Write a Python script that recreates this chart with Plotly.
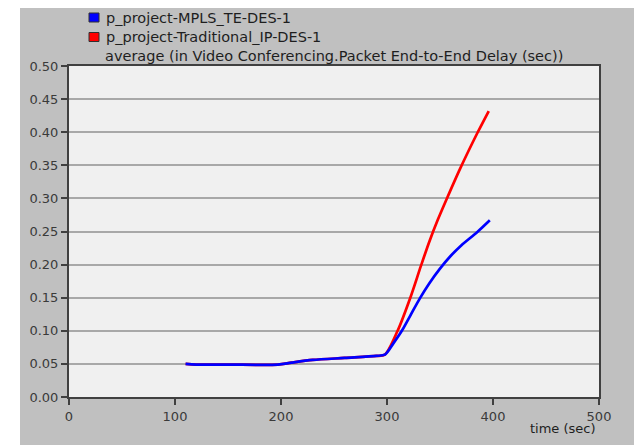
import plotly.graph_objects as go

# ---- data ----
series_names = ["p_project-MPLS_TE-DES-1", "p_project-Traditional_IP-DES-1"]
mpls_time = [110, 120, 150, 197, 210, 230, 260, 290, 298, 306, 314, 322, 331, 340, 350, 360, 370, 385, 397]
mpls_delay = [0.050, 0.049, 0.049, 0.049, 0.052, 0.056, 0.059, 0.062, 0.064, 0.081, 0.100, 0.123, 0.149, 0.172, 0.194, 0.213, 0.229, 0.249, 0.267]
ip_time = [110, 120, 150, 197, 210, 230, 260, 290, 298, 310, 322, 332, 340, 348, 356, 369, 385, 396]
ip_delay = [0.050, 0.049, 0.049, 0.049, 0.052, 0.056, 0.059, 0.062, 0.064, 0.100, 0.150, 0.198, 0.235, 0.268, 0.298, 0.345, 0.398, 0.432]
x_ticks = [0, 100, 200, 300, 400, 500]
y_ticks = [0.00, 0.05, 0.10, 0.15, 0.20, 0.25, 0.30, 0.35, 0.40, 0.45, 0.50]
colors = ["#0000ff", "#ff0000"]
chart_title = "average (in Video Conferencing.Packet End-to-End Delay (sec))"
x_title = "time (sec)"

W, H = 634, 445
L, R, T, B = 69, 35, 66, 48
PW, PH = W - L - R, H - T - B


def px(x):
    return (x - L) / PW


def py(y):
    return (H - B - y) / PH


FONT = "DejaVu Sans, Verdana, sans-serif"
TXT = "#1e1e1e"
TICK = "#3a3a3a"

fig = go.Figure()
fig.add_trace(go.Scatter(x=ip_time, y=ip_delay, mode="lines", name=series_names[1],
                         line=dict(color=colors[1], width=2.7, shape="spline", smoothing=0.8),
                         showlegend=False))
fig.add_trace(go.Scatter(x=mpls_time, y=mpls_delay, mode="lines", name=series_names[0],
                         line=dict(color=colors[0], width=2.7, shape="spline", smoothing=0.8),
                         showlegend=False))

shapes = [
    # white page margins outside the gray panel
    dict(type="rect", xref="paper", yref="paper", x0=px(-5), x1=px(20), y0=py(H + 5), y1=py(-5),
         fillcolor="white", line=dict(width=0), layer="above"),
    dict(type="rect", xref="paper", yref="paper", x0=px(-5), x1=px(W + 5), y0=py(8), y1=py(-5),
         fillcolor="white", line=dict(width=0), layer="above"),
]
annotations = [
    dict(text=chart_title, xref="paper", yref="paper", x=0.5, y=py(56), xanchor="center",
         yanchor="middle", showarrow=False, font=dict(family=FONT, size=14.5, color=TXT)),
    dict(text=x_title, xref="paper", yref="paper", x=px(563), y=py(428), xanchor="center",
         yanchor="middle", showarrow=False, font=dict(family=FONT, size=13, color=TXT)),
]
legend_y = [17.5, 37]
for i, yc in zip([0, 1], legend_y):
    shapes.append(dict(type="rect", xref="paper", yref="paper", x0=px(89), x1=px(99),
                       y0=py(yc + 4.5), y1=py(yc - 4.5), fillcolor=colors[i],
                       line=dict(color="#303030", width=1), layer="above"))
    annotations.append(dict(text=series_names[i], xref="paper", yref="paper", x=px(104), y=py(yc),
                            xanchor="left", yanchor="middle", showarrow=False,
                            font=dict(family=FONT, size=14.5, color=TXT)))

fig.update_layout(
    width=W, height=H,
    margin=dict(l=L, r=R, t=T, b=B, pad=0),
    paper_bgcolor="#c0c0c0",
    plot_bgcolor="#f0f0f0",
    showlegend=False,
    shapes=shapes,
    annotations=annotations,
    font=dict(family=FONT, size=13, color=TICK),
)
fig.update_xaxes(range=[0, 500], tickvals=x_ticks, ticktext=[str(v) for v in x_ticks],
                 showgrid=False, zeroline=False, showline=True, linecolor="#404040", linewidth=2,
                 mirror=True, ticks="outside", ticklen=6, tickwidth=1.5, tickcolor="#404040",
                 tickfont=dict(family=FONT, size=13, color=TICK), fixedrange=True)
fig.update_yaxes(range=[0, 0.5], tickvals=y_ticks, ticktext=[f"{v:.2f}" for v in y_ticks],
                 showgrid=True, gridcolor="#a8a8a8", gridwidth=1.5, zeroline=False,
                 showline=True, linecolor="#404040", linewidth=2, mirror=True,
                 ticks="outside", ticklen=6, tickwidth=1.5, tickcolor="#404040",
                 tickfont=dict(family=FONT, size=13, color=TICK), fixedrange=True)

fig.write_html("out.html", config={"displayModeBar": False},
               post_script="document.body.style.margin='0';document.body.style.overflow='hidden';")
